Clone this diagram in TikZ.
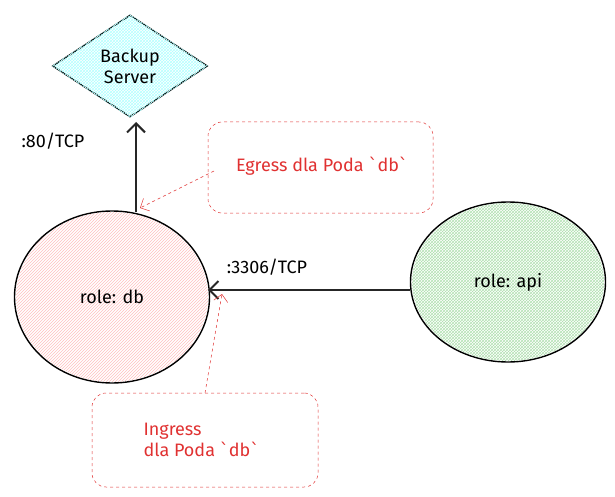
\documentclass[tikz,border=0pt]{standalone}
\usepackage{fontspec}
\setmainfont{Fira Sans}
\newfontfamily\bqf{DejaVu Sans}
\newcommand{\bq}{{\bqf\symbol{96}}}
\usetikzlibrary{shapes.geometric,patterns,arrows.meta}
\definecolor{rd}{HTML}{E03131}
\begin{document}
\begin{tikzpicture}[x=1pt,y=-1pt,
  thickl/.style={line width=2pt,draw=black!85},
  dbox/.style={draw=rd,dashed,rounded corners=14pt,line width=0.5pt},
  darr/.style={draw=rd,dashed,line width=0.5pt,-{Straight Barb[length=7pt]}},
  lbl/.style={font=\fontsize{18}{21}\selectfont}]
\useasboundingbox (0,0) rectangle (615,497);
\node[diamond,draw,line width=1.4pt,minimum width=155pt,minimum height=102pt,inner sep=0pt] (bs) at (130,66) {};
\fill[pattern=crosshatch,pattern color=cyan!30] (bs.north)--(bs.east)--(bs.south)--(bs.west)--cycle;
\node[lbl,align=center] at (bs) {Backup\\Server};
\node[ellipse,draw,line width=1.4pt,minimum width=195pt,minimum height=172pt] (db) at (112,297) {};
\fill[pattern=north east lines,pattern color=red!25] (db) ellipse (96pt and 85pt);
\node[lbl] at (db) {role: db};
\node[ellipse,draw,line width=1.4pt,minimum width=195pt,minimum height=160pt] (api) at (508,282) {};
\fill[pattern=crosshatch,pattern color=green!60!black!30] (api) ellipse (96pt and 79pt);
\node[lbl] at (api) {role: api};
\coordinate (dbt) at (136,212);
\coordinate (bsb) at (136,122);
\draw[thickl,-{Straight Barb[length=9pt]}] (dbt) -- (bsb);
\node[lbl] (p80) at (53,141) {:80/TCP};
\coordinate (apil) at (410,290);
\coordinate (dbr) at (208,290);
\draw[thickl,-{Straight Barb[length=9pt]}] (apil) -- (dbr);
\node[lbl] (p3306) at (267,267) {:3306/TCP};
\node[dbox,minimum width=225pt,minimum height=91pt] (eg) at (320.5,167.5) {};
\node[lbl,text=rd] at (322,166) {Egress dla Poda \bq db\bq};
\coordinate (egs) at (214,171);
\coordinate (ege) at (140,208);
\draw[darr] (egs) -- (ege);
\node[dbox,minimum width=226pt,minimum height=94pt] (ig) at (205,440) {};
\node[lbl,text=rd,align=left,anchor=west] at (140,440) {Ingress\\dla Poda \bq db\bq};
\coordinate (igs) at (205,393);
\coordinate (ige) at (222,294);
\draw[darr] (igs) -- (ige);
\end{tikzpicture}
\end{document}
